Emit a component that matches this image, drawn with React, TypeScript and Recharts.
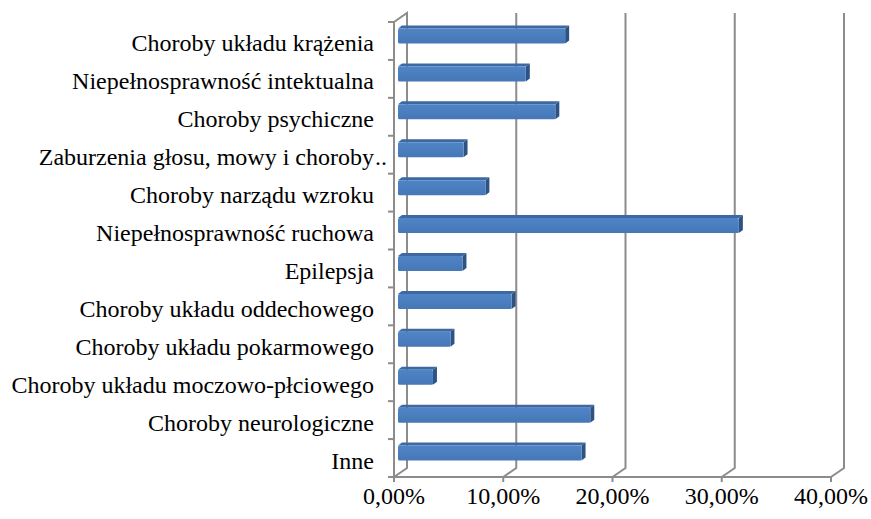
import React from "react";
import { BarChart, Bar, XAxis, YAxis, CartesianGrid } from "recharts";

const categories = [
  "Choroby układu krążenia",
  "Niepełnosprawność intektualna",
  "Choroby psychiczne",
  "Zaburzenia głosu, mowy i choroby..",
  "Choroby narządu wzroku",
  "Niepełnosprawność ruchowa",
  "Epilepsja",
  "Choroby układu oddechowego",
  "Choroby układu pokarmowego",
  "Choroby układu moczowo-płciowego",
  "Choroby neurologiczne",
  "Inne",
];
const values = [15.3, 11.7, 14.4, 6.0, 8.0, 31.2, 5.9, 10.4, 4.8, 3.2, 17.6, 16.8];
const xTicks = [0, 10, 20, 30, 40];

const data = categories.map((name, i) => ({ name, value: values[i] }));

const W = 871;
const H = 519;
const M = { top: 22, right: 40, bottom: 0, left: 0 };
const Y_AXIS_W = 394;
const X_AXIS_H = 42;
const PLOT_H = H - M.top - M.bottom - X_AXIS_H;
const BAND = PLOT_H / categories.length;
const DX = 13;
const DY = 9;
const GRID = "#8c8c8c";
const FONT = "Liberation Serif, DejaVu Serif, serif";
const textStyle = { fontFamily: FONT, fontSize: 24 } as React.CSSProperties;

const fmt = (v: number) => v.toFixed(2).replace(".", ",") + "%";

const GridLine = (p: any) => {
  const { x1, y1, y2, index } = p;
  const x = x1;
  const d =
    index === 0
      ? `M${x},${y1} L${x + DX},${y1 - DY} L${x + DX},${y2 - DY} L${x},${y2}`
      : `M${x + DX},${y1 - DY} L${x + DX},${y2 - DY} L${x},${y2}`;
  return <path key={`g${index}`} d={d} stroke={GRID} strokeWidth={2} fill="none" />;
};

const BarShape = (p: any) => {
  const { x, y, width, height } = p;
  if (width == null || width <= 0) return <g />;
  const ox = 4;
  const oy = -4.5;
  const X0 = x + ox;
  const X1 = x + ox + width;
  const Y0 = y + oy;
  const h = height;
  const dx = 4;
  const dy = 3;
  return (
    <g>
      <polygon
        points={`${X0},${Y0} ${X0 + dx},${Y0 - dy} ${X1 + dx},${Y0 - dy} ${X1},${Y0}`}
        fill="#3c69a3"
      />
      <polygon
        points={`${X1},${Y0} ${X1 + dx},${Y0 - dy} ${X1 + dx},${Y0 + h - dy} ${X1},${Y0 + h}`}
        fill="#2d5384"
      />
      <rect x={X0} y={Y0} width={width} height={h} fill="url(#barGrad)" rx={1.5} />
    </g>
  );
};

const YTick = (p: any) => {
  const { y, payload, index } = p;
  const label: string = payload.value;
  const axisX = Y_AXIS_W;
  const textX = axisX - 20;
  const hasDots = label.endsWith("..");
  const main = hasDots ? label.slice(0, -2) : label;
  const top = y - BAND / 2;
  const bottom = y + BAND / 2;
  return (
    <g>
      <line x1={axisX - 6} x2={axisX} y1={top} y2={top} stroke={GRID} strokeWidth={2} />
      {index === categories.length - 1 && (
        <line x1={axisX - 6} x2={axisX} y1={bottom} y2={bottom} stroke={GRID} strokeWidth={2} />
      )}
      <text x={textX} y={y + 2} dy="0.355em" textAnchor="end" style={textStyle} fill="#000">
        {main}
      </text>
      {hasDots && (
        <text x={textX + 1} y={y + 2} dy="0.355em" textAnchor="start" style={textStyle} fill="#000">
          ..
        </text>
      )}
    </g>
  );
};

const XTick = (p: any) => {
  const { x, y, payload } = p;
  return (
    <text x={x} y={y} dy="0.71em" textAnchor="middle" style={textStyle} fill="#000">
      {fmt(payload.value)}
    </text>
  );
};

export default function App() {
  return (
    <div style={{ position: "absolute", left: 0, top: 0, width: W, height: H, background: "#fff" }}>
      <BarChart width={W} height={H} data={data} layout="vertical" margin={M} barSize={15}>
        <defs>
          <linearGradient id="barGrad" x1="0" y1="0" x2="0" y2="1">
            <stop offset="0%" stopColor="#4f85c6" />
            <stop offset="100%" stopColor="#4677b6" />
          </linearGradient>
        </defs>
        <CartesianGrid horizontal={false} vertical={GridLine as any} />
        <XAxis
          type="number"
          domain={[0, 40]}
          ticks={xTicks}
          interval={0}
          height={X_AXIS_H}
          axisLine={{ stroke: GRID, strokeWidth: 2 }}
          tickLine={{ stroke: GRID, strokeWidth: 2 }}
          tickSize={5}
          tickMargin={5}
          tick={XTick}
        />
        <YAxis
          type="category"
          dataKey="name"
          width={Y_AXIS_W}
          interval={0}
          axisLine={{ stroke: GRID, strokeWidth: 2 }}
          tickLine={false}
          tick={YTick}
        />
        <Bar dataKey="value" shape={BarShape} isAnimationActive={false} />
      </BarChart>
    </div>
  );
}
